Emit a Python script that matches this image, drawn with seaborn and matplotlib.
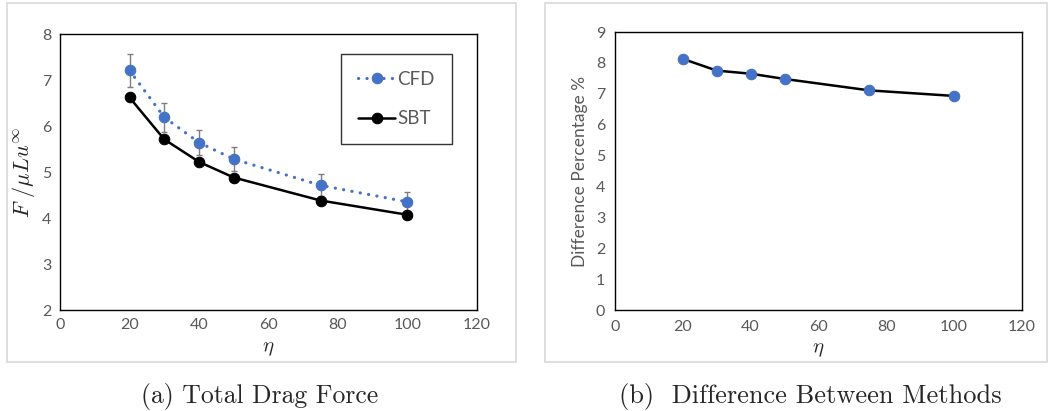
import matplotlib
matplotlib.use("Agg")
import matplotlib.pyplot as plt
from matplotlib.patches import Rectangle
import seaborn as sns

# Slenderness ratio values
eta = [20, 30, 40, 50, 75, 100]

# Total drag force (non-dimensional)
cfd_force = [7.21, 6.19, 5.64, 5.28, 4.71, 4.35]
cfd_err = [0.36, 0.31, 0.28, 0.26, 0.24, 0.22]
sbt_force = [6.62, 5.71, 5.22, 4.88, 4.38, 4.07]

# Percentage difference between CFD and SBT
diff_pct = [8.13, 7.75, 7.65, 7.48, 7.11, 6.93]

x_ticks = [0, 20, 40, 60, 80, 100, 120]

sns.set_style("white")
plt.rcParams["font.family"] = ["Lato", "DejaVu Sans"]
plt.rcParams["mathtext.fontset"] = "cm"

BLUE = "#4472C4"
GRAY_TXT = "#595959"

fig = plt.figure(figsize=(10.55, 4.11), dpi=100)
W, H = 1055, 411


def px_rect(x0, y0, x1, y1):
    return [x0 / W, 1 - y1 / H, (x1 - x0) / W, (y1 - y0) / H]


# light chart-area frames
for x0, y0, x1, y1 in [(7, 3, 516, 362), (545, 3, 1047, 362)]:
    fig.patches.append(Rectangle((x0 / W, 1 - y1 / H), (x1 - x0) / W, (y1 - y0) / H,
                                 transform=fig.transFigure, fill=False,
                                 edgecolor="#d9d9d9", lw=1.2))

# ---- (a) total drag force ----
ax1 = fig.add_axes(px_rect(60, 34, 477, 310))
ax1.errorbar(eta, cfd_force, yerr=cfd_err, fmt="none", ecolor="#7f7f7f",
             elinewidth=1, capsize=2.5, capthick=1, zorder=2)
sns.lineplot(x=eta, y=cfd_force, ax=ax1, color=BLUE, lw=2.3,
             linestyle=(0, (0.05, 2.6)), dash_capstyle="round",
             marker="o", markersize=7.6, markeredgecolor=BLUE,
             label="CFD", zorder=3)
sns.lineplot(x=eta, y=sbt_force, ax=ax1, color="black", lw=1.8,
             marker="o", markersize=7.6, markeredgecolor="black",
             label="SBT", zorder=3)
ax1.set_xlim(0, 120)
ax1.set_ylim(2, 8)
ax1.set_xticks(x_ticks)
ax1.set_yticks(range(2, 9))
ax1.tick_params(length=0, labelsize=11.5, labelcolor=GRAY_TXT, pad=6)
for s in ax1.spines.values():
    s.set_color("black")
    s.set_linewidth(1)
ax1.set_xlabel(r"$\eta$", fontsize=15, labelpad=4)
ax1.set_ylabel(r"$F\ /\mu L u^{\infty}$", fontsize=16, labelpad=4)
leg = ax1.legend(loc="upper left", bbox_to_anchor=(0.674, 0.928), fontsize=13.5,
                 frameon=True, fancybox=False, handlelength=2.0,
                 handletextpad=0.1, labelspacing=1.2, borderpad=0.9,
                 borderaxespad=0)
leg.get_frame().set_edgecolor("black")
leg.get_frame().set_linewidth(1)
for t in leg.get_texts():
    t.set_color(GRAY_TXT)

# ---- (b) difference between methods ----
ax2 = fig.add_axes(px_rect(615, 32, 1022, 310))
sns.lineplot(x=eta, y=diff_pct, ax=ax2, color="black", lw=1.8,
             marker="o", markersize=7.6, markerfacecolor=BLUE,
             markeredgecolor=BLUE, zorder=3)
ax2.set_xlim(0, 120)
ax2.set_ylim(0, 9)
ax2.set_xticks(x_ticks)
ax2.set_yticks(range(0, 10))
ax2.tick_params(direction="in", length=3, width=1, color="black",
                labelsize=11.5, labelcolor=GRAY_TXT, pad=7)
for s in ax2.spines.values():
    s.set_color("black")
    s.set_linewidth(1)
ax2.set_xlabel(r"$\eta$", fontsize=15, labelpad=4)
ax2.set_ylabel("Difference Percentage %", fontsize=12.5, color=GRAY_TXT, labelpad=6)

# captions
fig.text(260 / W, 1 - 396 / H, "(a) Total Drag Force", family="cmr10",
         fontsize=18.5, ha="center", va="center")
fig.text(810 / W, 1 - 396 / H, "(b)  Difference Between Methods", family="cmr10",
         fontsize=19, ha="center", va="center")

fig.savefig("out.png", dpi=100)
